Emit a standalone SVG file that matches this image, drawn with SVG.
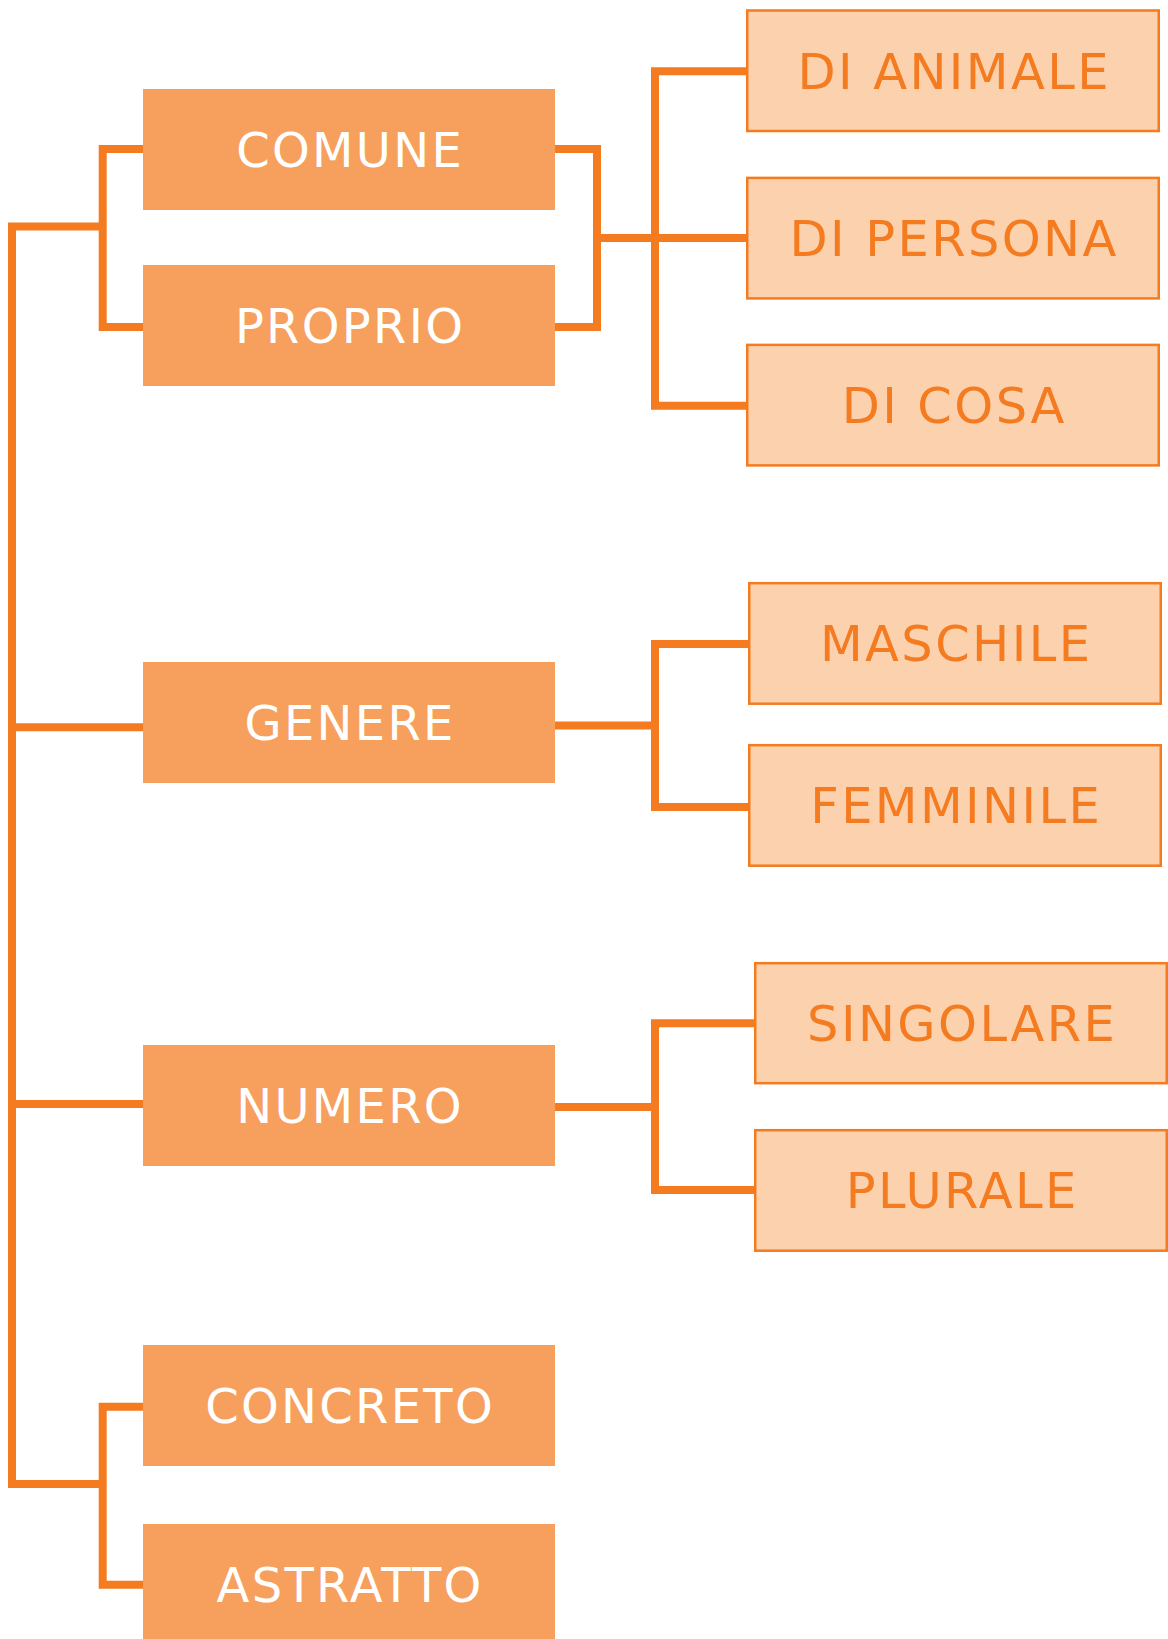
<svg xmlns="http://www.w3.org/2000/svg" width="1168" height="1639" viewBox="0 0 1168 1639">
<style>
.main{fill:#F79F5D;}
.sub{fill:#FCD2AE;stroke:#F47B20;stroke-width:2.5;}
.lbl{font-family:"DejaVu Sans","Verdana",sans-serif;font-size:48px;letter-spacing:2.3px;text-anchor:middle;}
.w{fill:#FFFFFF;}
.o{fill:#F47B20;font-size:49.5px;letter-spacing:2.4px;}
.c{fill:none;stroke:#F47B20;stroke-width:8;stroke-linejoin:miter;stroke-linecap:butt;}
</style>
<rect width="1168" height="1639" fill="#FFFFFF"/>
<g id="connectors">
<path class="c" d="M102.7 226.5 H12 V1484 H102.7"/>
<path class="c" d="M143 149 H102.7 V327 H143"/>
<path class="c" d="M12 727.3 H143"/>
<path class="c" d="M12 1104 H143"/>
<path class="c" d="M143 1406.7 H102.7 V1584.7 H143"/>
<path class="c" d="M555 149 H597 V327 H555"/>
<path class="c" d="M597 238 H747"/>
<path class="c" d="M747 71.3 H655 V405.7 H747"/>
<path class="c" d="M555 725.5 H655"/>
<path class="c" d="M749 644 H655 V807 H749"/>
<path class="c" d="M555 1107 H655"/>
<path class="c" d="M755 1023.3 H655 V1190 H755"/>
</g>
<g id="comune"><rect class="main" x="143" y="89" width="412" height="121"/><text class="lbl w" x="350.1" y="167">COMUNE</text></g>
<g id="proprio"><rect class="main" x="143" y="265" width="412" height="121"/><text class="lbl w" x="350.1" y="343">PROPRIO</text></g>
<g id="genere"><rect class="main" x="143" y="662" width="412" height="121"/><text class="lbl w" x="350.1" y="740">GENERE</text></g>
<g id="numero"><rect class="main" x="143" y="1045" width="412" height="121"/><text class="lbl w" x="350.1" y="1123">NUMERO</text></g>
<g id="concreto"><rect class="main" x="143" y="1345" width="412" height="121"/><text class="lbl w" x="350.1" y="1423">CONCRETO</text></g>
<g id="astratto"><rect class="main" x="143" y="1524" width="412" height="121"/><text class="lbl w" x="350.1" y="1602">ASTRATTO</text></g>
<g id="di-animale"><rect class="sub" x="747.25" y="10.5" width="411.5" height="120.5"/><text class="lbl o" x="954.2" y="88.5">DI ANIMALE</text></g>
<g id="di-persona"><rect class="sub" x="747.25" y="177.9" width="411.5" height="120.5"/><text class="lbl o" x="954.2" y="255.5">DI PERSONA</text></g>
<g id="di-cosa"><rect class="sub" x="747.25" y="344.9" width="411.5" height="120.5"/><text class="lbl o" x="954.2" y="422.5">DI COSA</text></g>
<g id="maschile"><rect class="sub" x="749.25" y="583.2" width="411.5" height="120.5"/><text class="lbl o" x="956.2" y="661">MASCHILE</text></g>
<g id="femminile"><rect class="sub" x="749.25" y="745.2" width="411.5" height="120.5"/><text class="lbl o" x="956.2" y="823">FEMMINILE</text></g>
<g id="singolare"><rect class="sub" x="755.25" y="963.2" width="411.5" height="120"/><text class="lbl o" x="962.2" y="1040.5">SINGOLARE</text></g>
<g id="plurale"><rect class="sub" x="755.25" y="1130.2" width="411.5" height="120.5"/><text class="lbl o" x="962.2" y="1208">PLURALE</text></g>
</svg>
